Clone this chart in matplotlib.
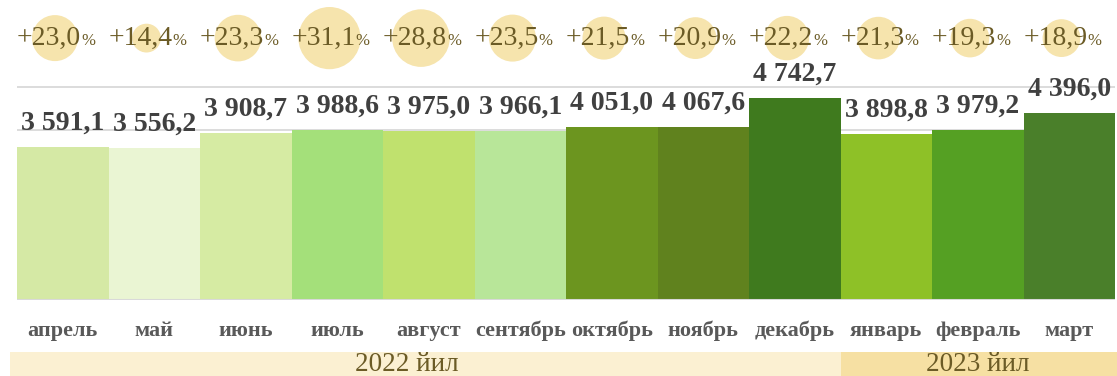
import matplotlib
matplotlib.use("Agg")
import matplotlib.pyplot as plt
from matplotlib.patches import Rectangle

# ---- data ----
months = ["апрель", "май", "июнь", "июль", "август", "сентябрь",
          "октябрь", "ноябрь", "декабрь", "январь", "февраль", "март"]
values = [3591.1, 3556.2, 3908.7, 3988.6, 3975.0, 3966.1,
          4051.0, 4067.6, 4742.7, 3898.8, 3979.2, 4396.0]
growth = [23.0, 14.4, 23.3, 31.1, 28.8, 23.5,
          21.5, 20.9, 22.2, 21.3, 19.3, 18.9]
years = ["2022 йил", "2023 йил"]
year_of_month = [0, 0, 0, 0, 0, 0, 0, 0, 0, 1, 1, 1]

# ---- style ----
bar_colors = ["#D5E9A5", "#EAF5D3", "#D6EBA3", "#A4E07A", "#C0E16E", "#B8E699",
              "#6C951F", "#60821E", "#3F7A1E", "#8EC127", "#55A023", "#4A7F2A"]
band_colors = ["#FBF0D2", "#F6E0A3"]
serif = ["Liberation Serif", "DejaVu Serif"]

def fmt(v):
    s = f"{v:,.1f}".replace(",", " ").replace(".", ",")
    return s

fig = plt.figure(figsize=(11.17, 3.76), dpi=100)
ax = fig.add_axes([17 / 1117, 76 / 376, 1098 / 1117, 300 / 376])
ax.set_xlim(-0.5, 11.5)
ax.set_ylim(0, 7040)
for sp in ax.spines.values():
    sp.set_visible(False)
ax.set_xticks([])
ax.set_yticks([])

# gridlines
for g in range(1000, 6000, 1000):
    ax.axhline(g, color="#D9D9D9", lw=1.3, zorder=0)

x = list(range(len(months)))
ax.bar(x, values, width=1.0, color=bar_colors, zorder=2)
ax.axhline(0, color="#D9D9D9", lw=2.2, zorder=3)

# value labels
for xi, v in zip(x, values):
    ax.annotate(fmt(v), xy=(xi, v), xytext=(0, 12.5), textcoords="offset points",
                ha="center", va="baseline", fontsize=20, fontweight="bold",
                color="#404040", family=serif, zorder=5)

# month labels
tr = ax.get_xaxis_transform()
for xi, m in zip(x, months):
    ax.text(xi, -0.12, m, transform=tr, ha="center", va="baseline",
            fontsize=16, fontweight="bold", color="#595959", family=serif,
            clip_on=False)

# growth bubbles and labels
split = 0.2
for xi, g in zip(x, growth):
    r_px = g * 1.0
    s = (2 * r_px * 0.72) ** 2
    ax.scatter([xi + split - 0.285], [0.873], s=s, transform=tr, color="#F5E1A4",
               alpha=0.9, edgecolors="none", zorder=4, clip_on=False)
    ax.text(xi + split, 0.85, "+" + f"{g:.1f}".replace(".", ","), transform=tr,
            ha="right", va="baseline", fontsize=20, color="#6B5B26",
            family=serif, zorder=6, clip_on=False)
    ax.text(xi + split, 0.85, "%", transform=tr, ha="left", va="baseline",
            fontsize=12, color="#6B5B26", family=serif, zorder=6, clip_on=False)

# year bands
for yi, (yname, bc) in enumerate(zip(years, band_colors)):
    idx = [i for i, y in enumerate(year_of_month) if y == yi]
    left = idx[0] - 0.5 if yi > 0 else -0.575
    right = idx[-1] + 0.5 if yi < len(years) - 1 else 11.55
    ax.add_patch(Rectangle((left, -0.26), right - left, 0.087, transform=tr,
                           facecolor=bc, edgecolor="none", clip_on=False, zorder=1))
    cx = sum(idx) / len(idx) + (-0.24 if yi == 0 else 0.0)
    ax.text(cx, -0.236, yname, transform=tr, ha="center", va="baseline",
            fontsize=19.5, color="#6B5B26", family=serif, clip_on=False, zorder=2)

fig.savefig("out.png", dpi=100)
